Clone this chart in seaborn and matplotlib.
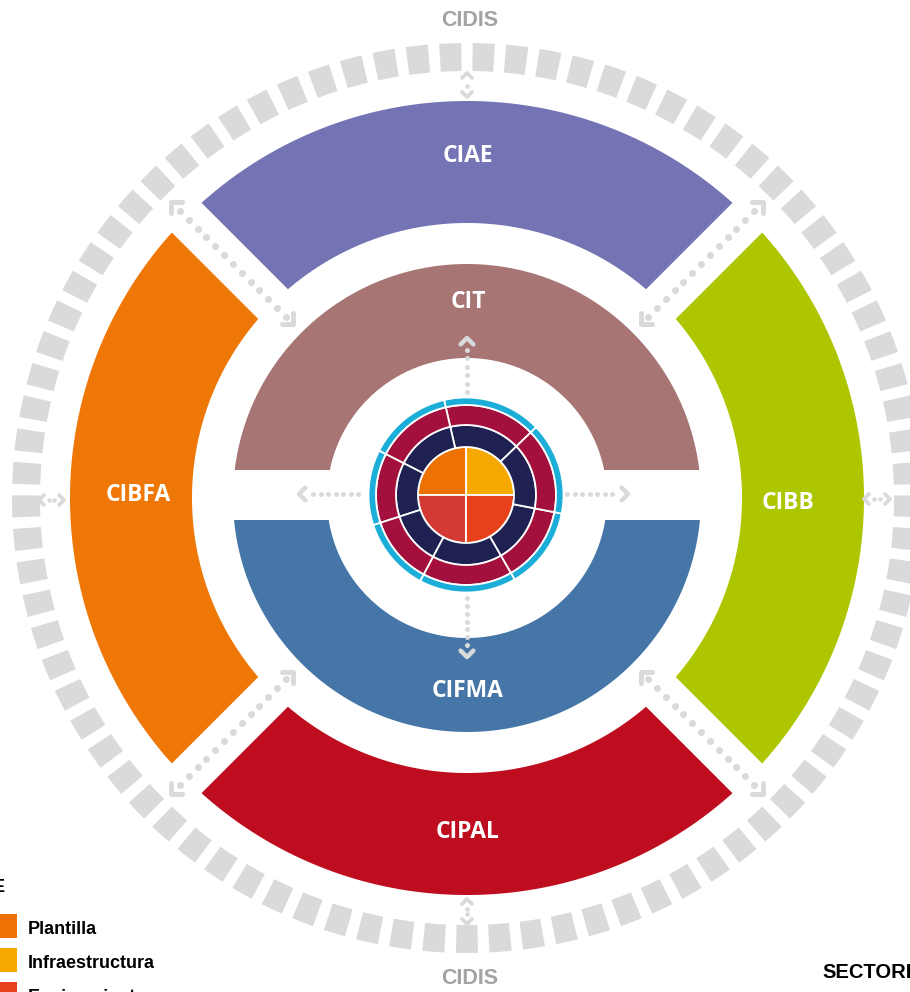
import numpy as np
import matplotlib
matplotlib.use("Agg")
import matplotlib.pyplot as plt
from matplotlib.patches import Polygon
import seaborn as sns

# ---------------- data ----------------
outer_labels = ["CIAE", "CIBB", "CIPAL", "CIBFA"]
outer_center_deg = [90, 0, 270, 180]
outer_colors = ["#7474B4", "#AEC600", "#BE0D1F", "#EE7705"]

middle_labels = ["CIT", "CIFMA"]
middle_colors = ["#A67574", "#4676A8"]

ring_label = "CIDIS"
n_dashes = 85

# inner pie, counter-clockwise from 0 deg (right)
pie_shares = [25, 25, 25, 25]
pie_colors = ["#F5A800", "#EE7203", "#D23A33", "#E6411A"]

# ring segments (degrees), counter-clockwise starting at 44 deg
segment_start = 44
segment_sizes = [59, 50, 45, 44, 58, 49, 55]

legend_labels = ["Plantilla", "Infraestructura", "Equipamiento"]
legend_colors = ["#EE7203", "#F5A800", "#E6411A"]
legend_title = "E"
sector_label = "SECTORES"

# ---------------- style ----------------
sns.set_style("white")
plt.rcParams["font.family"] = ["Open Sans", "DejaVu Sans"]

GRAY = "#D9DADB"
W, H = 910, 992
fig = plt.figure(figsize=(W / 100, H / 100), dpi=100)
ax = fig.add_axes([0, 0, 1, 1])
ax.set_xlim(0, W)
ax.set_ylim(H, 0)
ax.axis("off")

CX, CY = 467, 498
PT = 0.72  # points per pixel


def sector(cx, cy, r0, r1, a0, a1, n=120):
    t = np.radians(np.linspace(a0, a1, n))
    xo = cx + r1 * np.cos(t)
    yo = cy - r1 * np.sin(t)
    xi = cx + r0 * np.cos(t[::-1])
    yi = cy - r0 * np.sin(t[::-1])
    return np.column_stack([np.r_[xo, xi], np.r_[yo, yi]])


def add_poly(pts, color, z, ec="none", lw=0):
    ax.add_patch(Polygon(pts, closed=True, facecolor=color, edgecolor=ec,
                         linewidth=lw, zorder=z))


def strip(cx, cy, ang, r0, r1, hw):
    a = np.radians(ang)
    u = np.array([np.cos(a), -np.sin(a)])
    nvec = np.array([np.sin(a), np.cos(a)])
    c = np.array([cx, cy])
    return np.array([c + r0 * u + hw * nvec, c + r1 * u + hw * nvec,
                     c + r1 * u - hw * nvec, c + r0 * u - hw * nvec])


def chevron(tip, direction, arm, lw, z=20):
    back = direction + 180
    xs, ys = [], []
    for s in (-45, 0, 45):
        if s == 0:
            xs.append(tip[0]); ys.append(tip[1]); continue
        a = np.radians(back + s)
        xs.append(tip[0] + arm * np.cos(a))
        ys.append(tip[1] - arm * np.sin(a))
    ax.plot(xs, ys, color=GRAY, lw=lw * PT, solid_capstyle="round",
            solid_joinstyle="round", zorder=z)


def dots(p0, p1, n, d, z=20):
    xs = np.linspace(p0[0], p1[0], n)
    ys = np.linspace(p0[1], p1[1], n)
    ax.plot(xs, ys, "o", ms=d * PT, color=GRAY, mec="none", zorder=z)


# ---------------- dashed CIDIS ring ----------------
period = 360.0 / n_dashes
dash_w = period * 0.66
for k in range(n_dashes):
    c = 90 + period / 2 + k * period
    add_poly(sector(CX, CY, 427, 455, c - dash_w / 2, c + dash_w / 2, 6), GRAY, 1)

# ---------------- outer arcs ----------------
for lab, cdeg, col in zip(outer_labels, outer_center_deg, outer_colors):
    add_poly(sector(CX, CY, 275, 397, cdeg - 45, cdeg + 45), col, 2)
for ang in (45, 135, 225, 315):
    add_poly(strip(CX, CY, ang, 250, 412, 21), "white", 3)

# ---------------- middle half rings ----------------
add_poly(sector(CX, CY, 140, 234, 0, 180), middle_colors[0], 4)
add_poly(sector(CX, CY, 140, 234, 180, 360), middle_colors[1], 4)
add_poly(np.array([[220, 470], [715, 470], [715, 520], [220, 520]]), "white", 5)

# ---------------- inner disc ----------------
DX, DY = 466, 495
a = 0
for share, col in zip(pie_shares, pie_colors):
    span = share / sum(pie_shares) * 360
    add_poly(sector(DX, DY, 0, 48, a, a + span), col, 8, ec="white", lw=1.3)
    a += span
a = segment_start
for size in segment_sizes:
    add_poly(sector(DX, DY, 48, 70, a, a + size), "#1F2152", 8, ec="white", lw=1.3)
    add_poly(sector(DX, DY, 70, 90, a, a + size), "#A3103D", 8, ec="white", lw=1.3)
    add_poly(sector(DX, DY, 90, 97.5, a, a + size), "#1BAED9", 8, ec="white", lw=1.3)
    a += size

# ---------------- arrows ----------------
for ang in (45, 135, 225, 315):
    t = np.radians(ang)
    u = np.array([np.cos(t), -np.sin(t)])
    c = np.array([CX, CY])
    chevron(c + 418 * u, ang, 11, 5)
    chevron(c + 246 * u, ang + 180, 11, 5)
    dots(c + 406 * u, c + 256 * u, 13, 7)

chevron((467, 338), 90, 9, 4.5)
dots((467, 350), (467, 392), 6, 5)
chevron((467, 657), 270, 9, 4.5)
dots((467, 598), (467, 645), 7, 5)
chevron((299, 494), 180, 9, 4.5)
dots((313, 494), (358, 494), 7, 5)
chevron((628, 494), 0, 9, 4.5)
dots((567, 494), (612, 494), 7, 5)

chevron((467, 73), 90, 7, 3.8)
dots((467, 86), (467, 86), 1, 4.5)
chevron((467, 97), 270, 7, 3.8)
chevron((467, 899), 90, 7, 3.8)
dots((467, 909), (467, 914), 2, 4.5)
chevron((467, 924), 270, 7, 3.8)
chevron((39, 500), 180, 7, 3.8)
dots((49, 500), (54, 500), 2, 4.5)
chevron((64, 500), 0, 7, 3.8)
chevron((864, 499), 180, 7, 3.8)
dots((874, 499), (880, 499), 2, 4.5)
chevron((890, 499), 0, 7, 3.8)

# ---------------- texts ----------------
lab_font = dict(color="white", fontsize=16.5, fontweight="bold",
                ha="center", va="center", zorder=30,
                family=["Open Sans", "DejaVu Sans"])
outer_text_pos = {"CIAE": (468, 156), "CIBB": (788, 503),
                  "CIPAL": (468, 832), "CIBFA": (138, 495)}
for lab in outer_labels:
    ax.text(*outer_text_pos[lab], lab, **lab_font)
ax.text(468, 302, middle_labels[0], **lab_font)
ax.text(468, 691, middle_labels[1], **lab_font)

cidis_font = dict(color="#A3A3A3", fontsize=15.5, fontweight="bold",
                  ha="center", va="center", zorder=30,
                  family=["Liberation Sans", "DejaVu Sans"])
ax.text(470, 21, ring_label, **cidis_font)
ax.text(470, 979, ring_label, **cidis_font)

ax.text(5, 888, legend_title, color="black", fontsize=13, fontweight="bold",
        ha="right", va="center", family=["Liberation Sans", "DejaVu Sans"])
for i, (lab, col) in enumerate(zip(legend_labels, legend_colors)):
    y0 = 914 + i * 34
    add_poly(np.array([[0, y0], [17, y0], [17, y0 + 24], [0, y0 + 24]]), col, 30)
    ax.text(28, y0 + 15, lab, color="black", fontsize=13, fontweight="bold",
            ha="left", va="center", family=["Liberation Sans", "DejaVu Sans"])

ax.text(822, 972, sector_label, color="black", fontsize=14.5, fontweight="bold",
        ha="left", va="center", family=["Liberation Sans", "DejaVu Sans"])

fig.savefig("out.png", dpi=100, facecolor="white")
